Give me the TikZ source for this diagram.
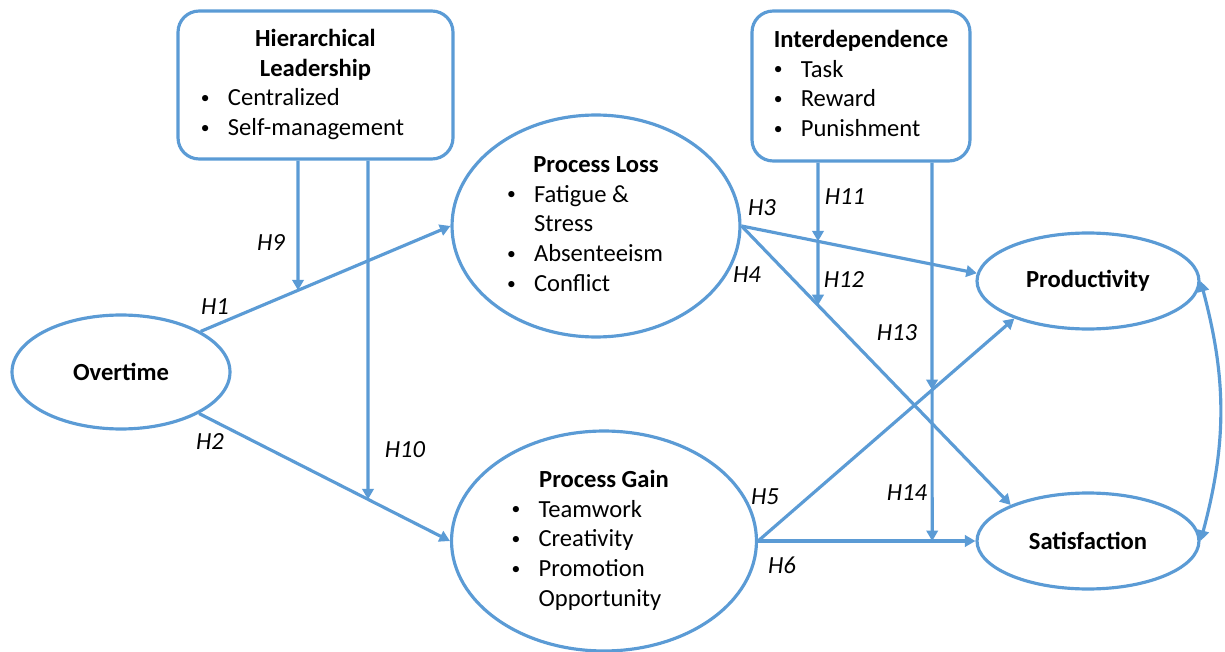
\documentclass[tikz,border=0pt]{standalone}
\usepackage{fontspec}
\setmainfont{Carlito}
\usetikzlibrary{shapes.geometric,arrows.meta}
\definecolor{hypBlue}{HTML}{5B9BD5}
\newcommand{\itembul}{\makebox[0.54cm][l]{\raisebox{1.2pt}{\fontsize{10}{10}\selectfont\textbullet}}}

\begin{document}
\begin{tikzpicture}[x=0.02cm, y=-0.02cm,
    every node/.style={font=\fontsize{14}{17}\selectfont},
    var/.style={ellipse, draw=hypBlue, line width=1.8pt, inner sep=0pt},
    modbox/.style={rectangle, rounded corners=12pt, draw=hypBlue, line width=1.8pt, inner sep=0pt},
    link/.style={draw=hypBlue, line width=1.8pt, -{Triangle[length=6pt,width=6.5pt]}},
    twoway/.style={draw=hypBlue, line width=1.8pt, {Triangle[length=6pt,width=6.5pt]}-{Triangle[length=6pt,width=6.5pt]}},
    hyp/.style={font=\fontsize{14}{17}\selectfont\itshape}
  ]
  \useasboundingbox (0,0) rectangle (1225,652);

  % moderators
  \node[modbox, minimum width=5.5cm, minimum height=2.96cm] (lead) at (315.5,85) {%
    \begin{tabular}{@{}l@{}}
      \multicolumn{1}{c}{\textbf{Hierarchical}}\\
      \multicolumn{1}{c}{\textbf{Leadership}}\\
      \itembul Centralized\\
      \itembul Self-management\kern0.52cm\relax
    \end{tabular}};
  \node[modbox, minimum width=4.36cm, minimum height=3cm] (inter) at (861,86) {%
    \begin{tabular}{@{}l@{}}
      \textbf{Interdependence}\\
      \itembul Task\\
      \itembul Reward\\
      \itembul Punishment
    \end{tabular}};

  % constructs
  \node[var, minimum width=4.36cm, minimum height=2.28cm] (ot) at (121,372) {\textbf{Overtime}};
  \node[var, minimum width=5.76cm, minimum height=4.44cm] (pl) at (596,226) {%
    \begin{tabular}{@{}l@{}}
      \multicolumn{1}{c}{\textbf{Process Loss}}\\
      \itembul Fatigue \&\\
      \hspace{0.54cm}Stress\\
      \itembul Absenteeism\kern0.44cm\relax\\
      \itembul Conflict
    \end{tabular}};
  \node[var, minimum width=6.1cm, minimum height=4.4cm] (pg) at (604,541) {%
    \begin{tabular}{@{}l@{}}
      \multicolumn{1}{c}{\textbf{Process Gain}}\\
      \itembul Teamwork\\
      \itembul Creativity\\
      \itembul Promotion\\
      \hspace{0.54cm}Opportunity\kern0.7cm\relax
    \end{tabular}};
  \node[var, minimum width=4.44cm, minimum height=1.92cm] (pr) at (1088,281) {\textbf{Productivity}};
  \node[var, minimum width=4.44cm, minimum height=1.92cm] (sa) at (1088,541) {\textbf{Satisfaction}};

  % direct effects
  \draw[link] (ot.27) -- (pl.west);
  \draw[link] (ot.-28) -- (pg.west);
  \draw[link] (pl.east) -- (pr.176);
  \draw[link] (pl.east) -- (sa.155);
  \draw[link] (pg.east) -- (pr.207);
  \draw[link] (pg.east) -- (sa.west);
  \draw[twoway] (pr.east) to[bend left=15] (sa.east);

  % moderating effects
  \coordinate (lead1) at ([xshift=-0.35cm]lead.south);
  \coordinate (lead2) at ([xshift=1.05cm]lead.south);
  \coordinate (inter1) at ([xshift=-0.86cm]inter.south);
  \coordinate (inter2) at ([xshift=1.42cm]inter.south);
  \coordinate (lead1b) at ([yshift=-9cm]lead1);
  \coordinate (lead2b) at ([yshift=-9cm]lead2);
  \coordinate (inter1b) at ([yshift=-9cm]inter1);
  \coordinate (inter2b) at ([yshift=-9cm]inter2);
  \coordinate (h9) at (intersection of lead1--lead1b and ot.27--pl.west);
  \coordinate (h10) at (intersection of lead2--lead2b and ot.-28--pg.west);
  \coordinate (h11) at (intersection of inter1--inter1b and pl.east--pr.176);
  \coordinate (h12) at (intersection of inter1--inter1b and pl.east--sa.155);
  \coordinate (h13) at (intersection of inter2--inter2b and pg.east--pr.207);
  \coordinate (h14) at (intersection of inter2--inter2b and pg.east--sa.west);
  \draw[link] (lead1) -- (h9);
  \draw[link] (lead2) -- (h10);
  \draw[link] (inter1) -- (h11);
  \draw[link] (h11) -- (h12);
  \draw[link] (inter2) -- (h13);
  \draw[link] (h13) -- (h14);

  % hypothesis labels
  \node[hyp] (lh1) at (215,307) {H1};
  \node[hyp] (lh2) at (210,442) {H2};
  \node[hyp] (lh3) at (762,208) {H3};
  \node[hyp] (lh4) at (747,275) {H4};
  \node[hyp] (lh5) at (765,497) {H5};
  \node[hyp] (lh6) at (782,565) {H6};
  \node[hyp] (lh9) at (271,243) {H9};
  \node[hyp] (lh10) at (405,450) {H10};
  \node[hyp] (lh11) at (845,197) {H11};
  \node[hyp] (lh12) at (844,280) {H12};
  \node[hyp] (lh13) at (897,333) {H13};
  \node[hyp] (lh14) at (907,493) {H14};
\end{tikzpicture}
\end{document}
